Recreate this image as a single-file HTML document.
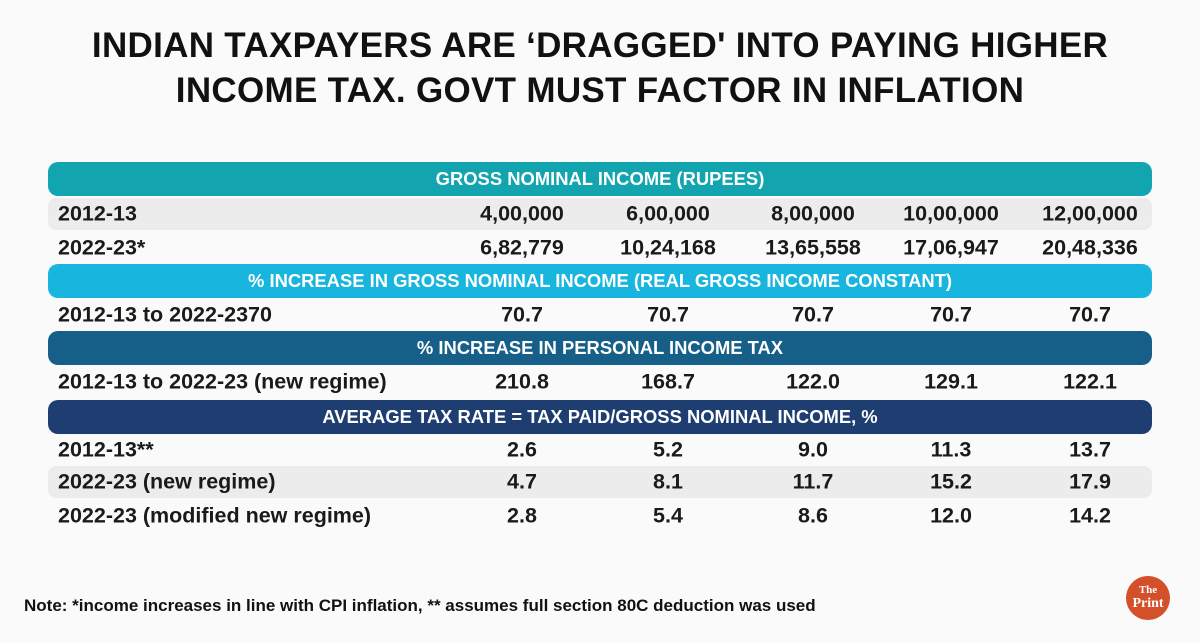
<!DOCTYPE html>
<html><head><meta charset="utf-8"><style>
body{margin:0;width:1200px;height:643px;background:#fafafa;font-family:"Liberation Sans",sans-serif;position:relative;overflow:hidden}
.t{position:absolute;left:0;width:1200px;text-align:center;font-weight:bold;font-size:35px;color:#111;letter-spacing:0.3px}
.h{position:absolute;left:48px;width:1104px;border-radius:10px;color:#fff;font-weight:bold;font-size:18.4px;text-align:center;display:flex;align-items:center;justify-content:center}
.r{position:absolute;left:48px;width:1104px;border-radius:8px;font-weight:bold;font-size:21.5px;color:#1a1a1a}
.r span{position:absolute;top:50%;transform:translate(-50%,-50%);white-space:nowrap}
.r .l{left:10px;transform:translateY(-50%)}
.g{background:#ececec}
</style></head><body>
<div class="t" style="top:26px">INDIAN TAXPAYERS ARE ‘DRAGGED' INTO PAYING HIGHER</div>
<div class="t" style="top:71px">INCOME TAX. GOVT MUST FACTOR IN INFLATION</div>
<div id="tbl"></div>
<div style="position:absolute;left:24px;top:596px;font-size:17px;font-weight:bold;color:#111">Note: *income increases in line with CPI inflation, ** assumes full section 80C deduction was used</div>
<div style="position:absolute;left:1126px;top:576px;width:44px;height:44px;border-radius:50%;background:#d4502a;color:#fff;font-family:'Liberation Serif',serif;font-weight:bold;text-align:center;line-height:13px;font-size:11px;padding-top:8px;box-sizing:border-box">The<br><span style="font-size:14px">Print</span></div>
<script>
const headers=[["GROSS NOMINAL INCOME (RUPEES)",162,34,"#12a5b0"],["% INCREASE IN GROSS NOMINAL INCOME (REAL GROSS INCOME CONSTANT)",264,34,"#18b5de"],["% INCREASE IN PERSONAL INCOME TAX",331,34,"#155f88"],["AVERAGE TAX RATE = TAX PAID/GROSS NOMINAL INCOME, %",400,34,"#1e3e72"]];
const rowLabels=["2012-13","2022-23*","2012-13 to 2022-2370","2012-13 to 2022-23 (new regime)","2012-13**","2022-23 (new regime)","2022-23 (modified new regime)"];
const rowValues=[["4,00,000","6,00,000","8,00,000","10,00,000","12,00,000"],["6,82,779","10,24,168","13,65,558","17,06,947","20,48,336"],["70.7","70.7","70.7","70.7","70.7"],["210.8","168.7","122.0","129.1","122.1"],["2.6","5.2","9.0","11.3","13.7"],["4.7","8.1","11.7","15.2","17.9"],["2.8","5.4","8.6","12.0","14.2"]];
const rowTops=[198,232,299,366,434,466,500];
const rowGray=[1,0,0,0,0,1,0];
const colX=[474,620,765,903,1042];
const tbl=document.getElementById('tbl');
headers.forEach(h=>{const d=document.createElement('div');d.className='h';d.style.top=h[1]+'px';d.style.height=h[2]+'px';d.style.background=h[3];d.textContent=h[0];


tbl.appendChild(d);});
rowLabels.forEach((lab,i)=>{const r=document.createElement('div');r.className='r'+(rowGray[i]?' g':'');r.style.top=rowTops[i]+'px';r.style.height='32px';


const l=document.createElement('span');l.className='l';l.textContent=lab;


r.appendChild(l);
rowValues[i].forEach((v,j)=>{const s=document.createElement('span');s.style.left=colX[j]+'px';s.textContent=v;


r.appendChild(s);});
tbl.appendChild(r);});
</script>
</body></html>
